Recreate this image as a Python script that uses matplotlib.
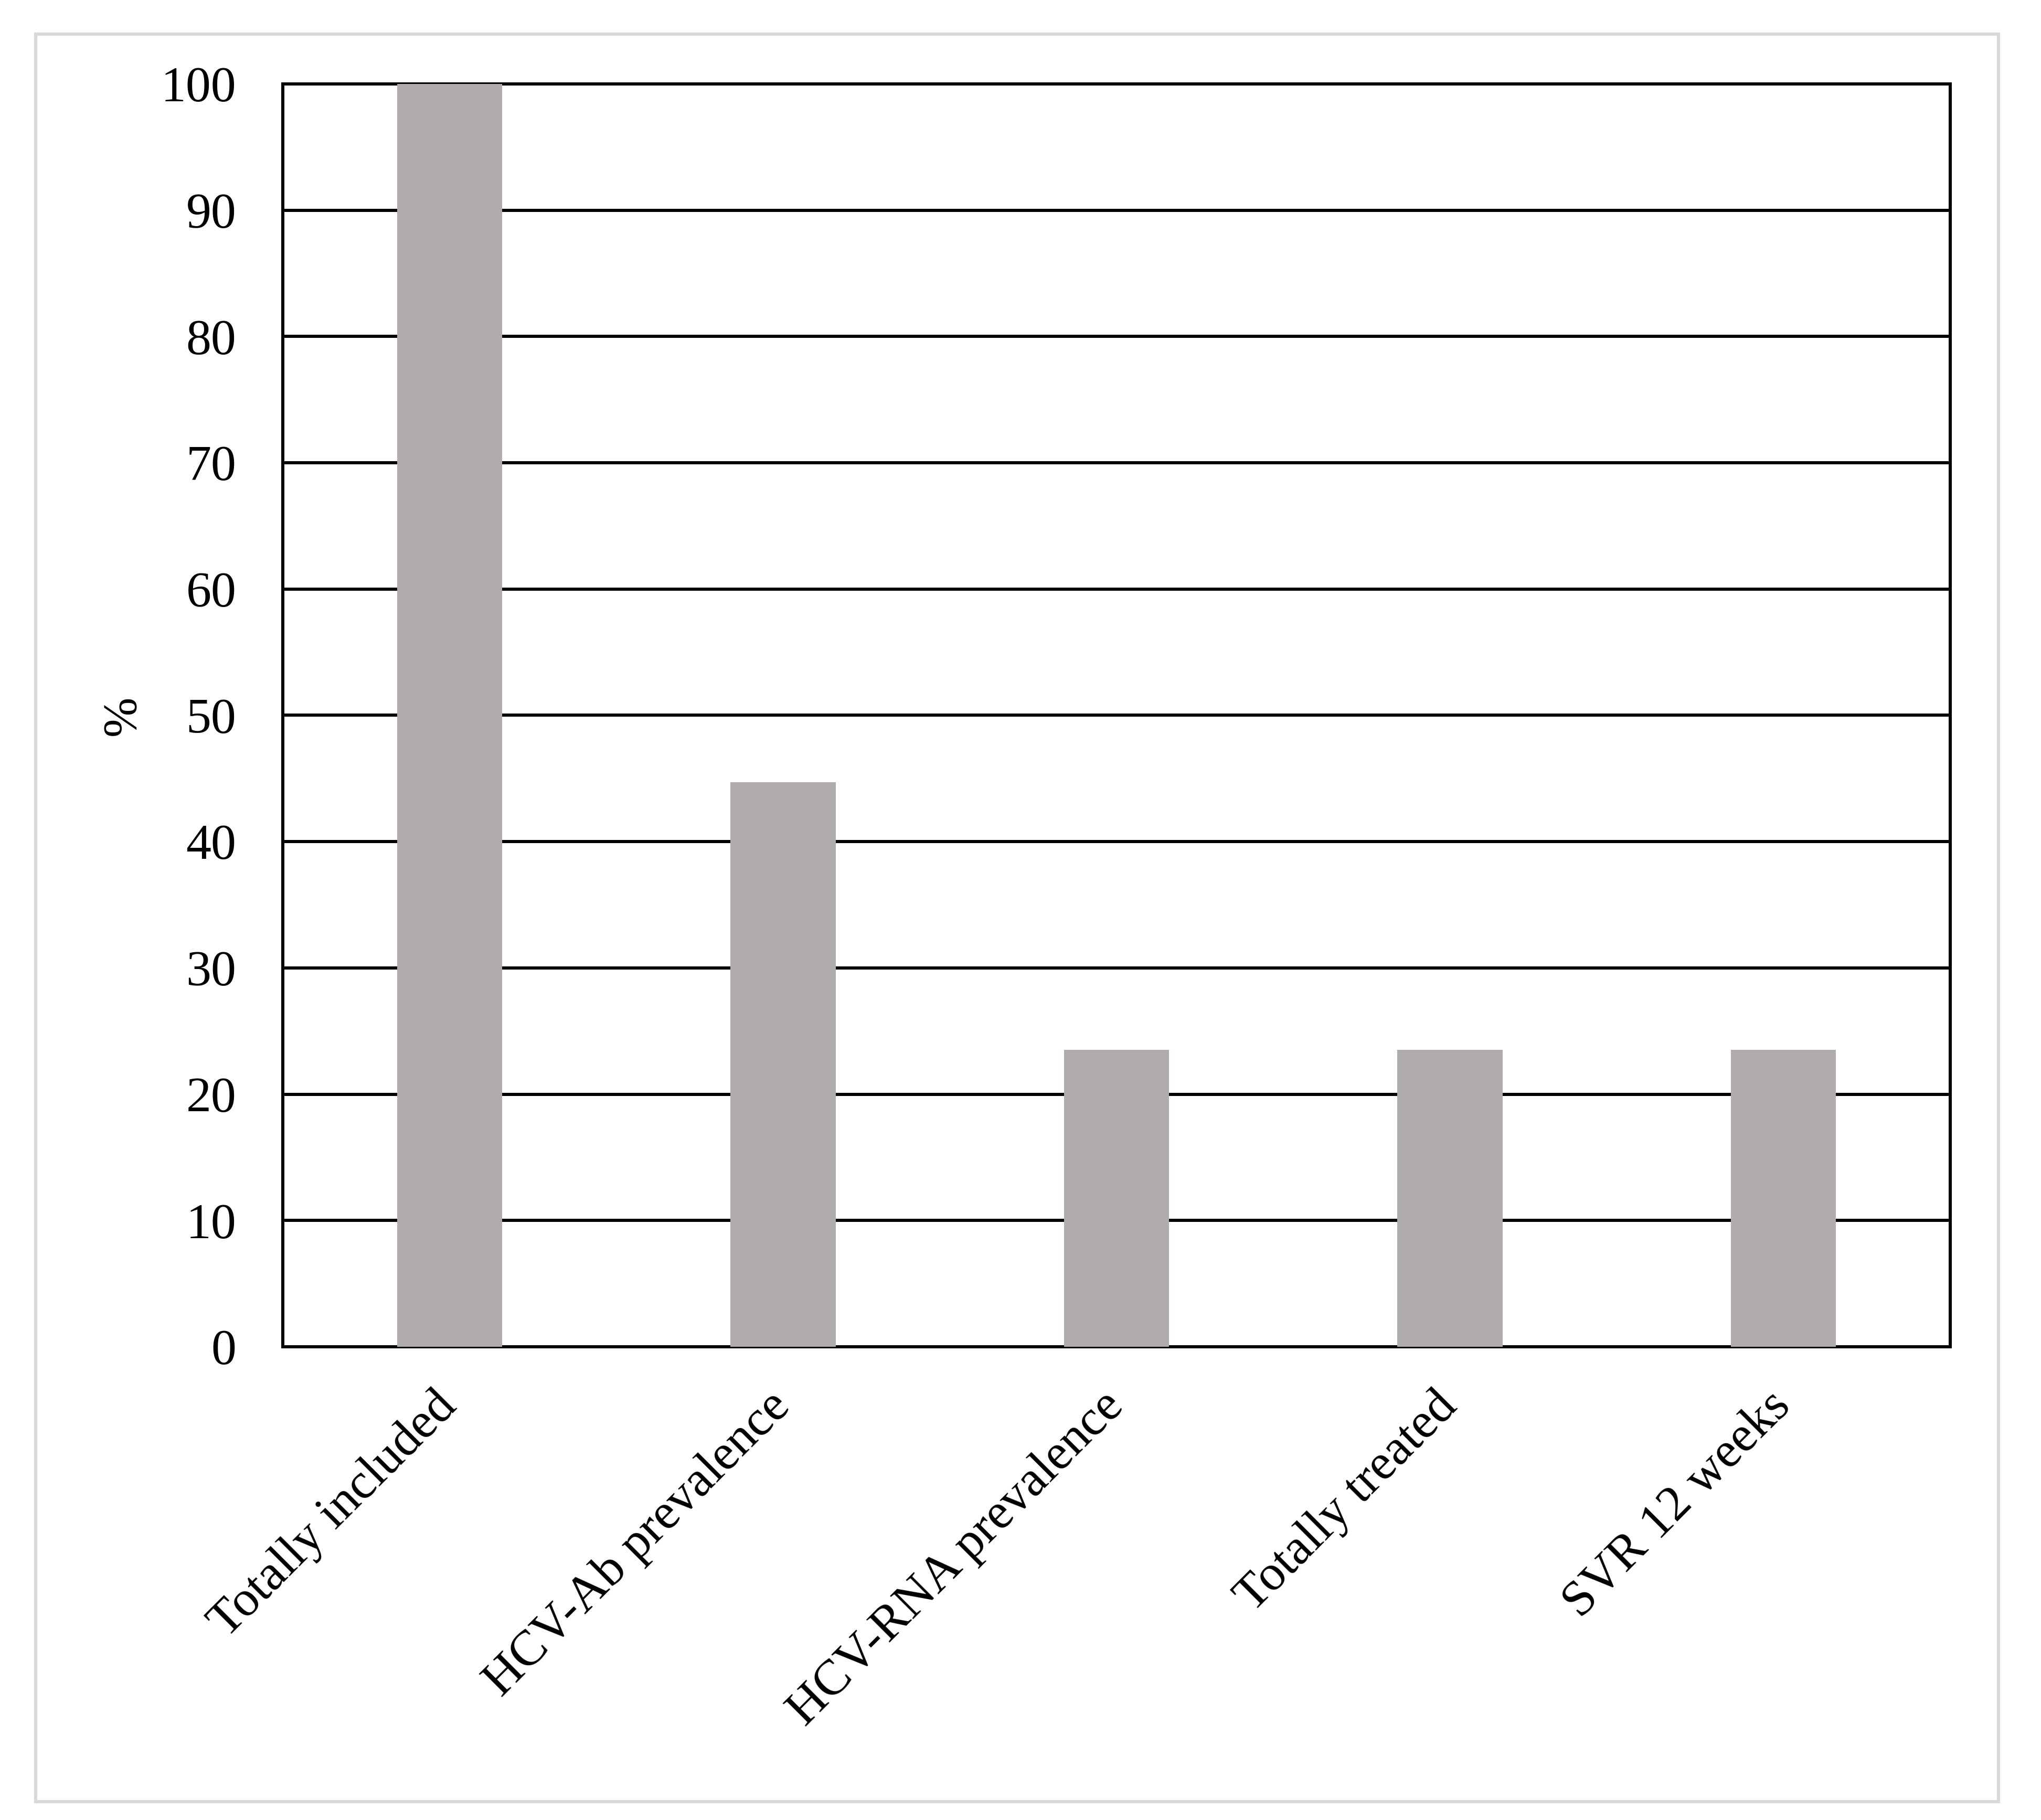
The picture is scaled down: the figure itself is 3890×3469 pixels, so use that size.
import matplotlib.pyplot as plt
from matplotlib.patches import Rectangle

# HCV care cascade, % of included
categories = ["Totally included", "HCV-Ab prevalence", "HCV-RNA prevalence",
              "Totally treated", "SVR 12 weeks"]
percent = [100, 44.7, 23.5, 23.5, 23.5]
y_ticks = [0, 10, 20, 30, 40, 50, 60, 70, 80, 90, 100]

plt.rcParams['font.family'] = ['Liberation Serif', 'DejaVu Serif']

fig = plt.figure(figsize=(38.9, 34.69), dpi=100)
ax = fig.add_axes([0.1386, 0.2600, 0.8169, 0.6939])

x = range(len(categories))
ax.bar(x, percent, width=0.315, color='#AFACAB', zorder=3)

ax.set_xlim(-0.5, len(categories) - 0.5)
ax.set_ylim(0, 100)
ax.set_yticks(y_ticks)
ax.yaxis.grid(True, color='black', linewidth=4.3)
ax.set_axisbelow(True)

ax.tick_params(axis='y', length=0, pad=64, labelsize=69)
ax.tick_params(axis='x', length=0, pad=72)
ax.set_xticks(list(x))
ax.set_xticklabels(categories, rotation=45, ha='right', va='center',
                   rotation_mode='anchor', fontsize=69)
ax.set_ylabel("%", fontsize=66, labelpad=22)

for s in ax.spines.values():
    s.set_linewidth(4.3)
    s.set_color('black')

# light grey frame around the whole figure
fig.patches.append(Rectangle((0.0176, 0.0102), 0.9615, 0.9712, transform=fig.transFigure,
                             fill=False, edgecolor='#D9D9D9', linewidth=4.5))

fig.savefig("out.png", dpi=100)
